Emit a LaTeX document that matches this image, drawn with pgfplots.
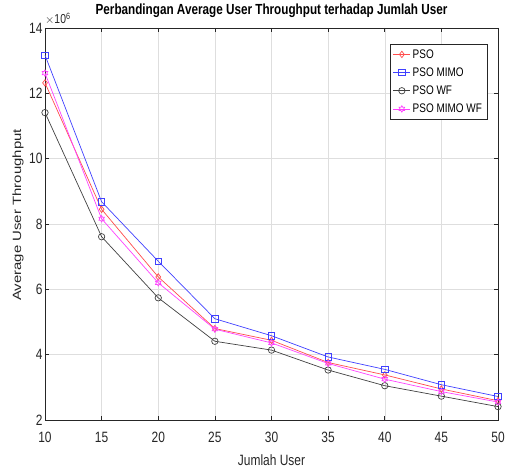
\documentclass[border=0pt]{standalone}
\usepackage{pgfplots}
\pgfplotsset{compat=1.18}
\usepackage{fontspec}
\setmainfont[FakeStretch=0.8]{Liberation Sans}
\newfontfamily\ylabfont{Liberation Sans}
\usetikzlibrary{plotmarks}

% MATLAB-style hexagram marker
\pgfdeclareplotmark{hexagram}{%
  \pgfpathmoveto{\pgfpointpolar{90}{\pgfplotmarksize}}%
  \pgfpathlineto{\pgfpointpolar{120}{0.577\pgfplotmarksize}}%
  \pgfpathlineto{\pgfpointpolar{150}{\pgfplotmarksize}}%
  \pgfpathlineto{\pgfpointpolar{180}{0.577\pgfplotmarksize}}%
  \pgfpathlineto{\pgfpointpolar{210}{\pgfplotmarksize}}%
  \pgfpathlineto{\pgfpointpolar{240}{0.577\pgfplotmarksize}}%
  \pgfpathlineto{\pgfpointpolar{270}{\pgfplotmarksize}}%
  \pgfpathlineto{\pgfpointpolar{300}{0.577\pgfplotmarksize}}%
  \pgfpathlineto{\pgfpointpolar{330}{\pgfplotmarksize}}%
  \pgfpathlineto{\pgfpointpolar{0}{0.577\pgfplotmarksize}}%
  \pgfpathlineto{\pgfpointpolar{30}{\pgfplotmarksize}}%
  \pgfpathlineto{\pgfpointpolar{60}{0.577\pgfplotmarksize}}%
  \pgfpathclose
  \pgfusepathqstroke}

\definecolor{axgray}{gray}{0.15}
\definecolor{gridgray}{gray}{0.87}
\definecolor{mred}{rgb}{1,0.3,0.3}
\definecolor{mblue}{rgb}{0.25,0.25,1}
\definecolor{mblack}{gray}{0.25}
\definecolor{mmag}{rgb}{1,0.25,1}

\begin{document}
\begin{tikzpicture}[x=1bp,y=1bp]
\begin{axis}[
    name=ax,
    scale only axis,
    width=453bp,
    height=392bp,
    xmin=10, xmax=50,
    ymin=2, ymax=14,
    xtick={10,15,...,50},
    ytick={2,4,...,14},
    grid=major,
    major grid style={gridgray, line width=0.5pt},
    axis line style={axgray, line width=0.6pt},
    tick style={axgray, line width=0.6pt},
    major tick length=4bp,
    tick align=inside,
    font=\fontsize{15}{17}\selectfont,
    ticklabel style={text=axgray, font=\fontsize{15}{17}\selectfont},
    xticklabel style={anchor=center, yshift=-17bp},
    yticklabel style={anchor=east, xshift=1bp},
    /pgf/number format/assume math mode=true,
    title={\textbf{Perbandingan Average User Throughput terhadap Jumlah User}},
    title style={font=\fontsize{14.7}{16}\selectfont, at={(axis description cs:0.5,1)}, anchor=center, yshift=11bp},
    xlabel={Jumlah User},
    ylabel={\ylabfont Average User Throughput},
    xlabel style={text=axgray, at={(axis description cs:0.5,-0.102)}, anchor=center},
    ylabel style={text=axgray, at={(axis description cs:-0.0596,0.523)}, anchor=center, yscale=0.8},
    legend style={
        at={(0.976,0.959)}, anchor=north east,
        draw=axgray, line width=0.5pt,
        font=\fontsize{12.5}{14}\selectfont,
        cells={anchor=west},
        row sep=4bp,
        inner sep=3bp,
    },
    legend cell align={left},
    every axis plot/.append style={line width=0.7pt, mark size=3.2bp, mark options={solid}},
]
\addplot[mred, mark=diamond] coordinates {
    (10,12.32) (15,8.45) (20,6.38) (25,4.80) (30,4.44)
    (35,3.76) (40,3.38) (45,2.95) (50,2.59)
};
\addlegendentry{PSO}
\addplot[mblue, mark=square] coordinates {
    (10,13.17) (15,8.68) (20,6.86) (25,5.10) (30,4.58)
    (35,3.93) (40,3.55) (45,3.08) (50,2.72)
};
\addlegendentry{PSO MIMO}
\addplot[mblack, mark=o] coordinates {
    (10,11.41) (15,7.61) (20,5.74) (25,4.41) (30,4.14)
    (35,3.53) (40,3.05) (45,2.73) (50,2.41)
};
\addlegendentry{PSO WF}
\addplot[mmag, mark=hexagram] coordinates {
    (10,12.62) (15,8.16) (20,6.20) (25,4.78) (30,4.36)
    (35,3.73) (40,3.25) (45,2.87) (50,2.55)
};
\addlegendentry{PSO MIMO WF}
\end{axis}
\node[anchor=base west, text=axgray, font=\fontsize{13}{15}\selectfont, inner sep=0pt]
    at ([yshift=4bp]ax.north west) {$\times$10\textsuperscript{6}};
\pgfresetboundingbox
\path ([xshift=-45bp,yshift=-48bp]ax.south west) rectangle ([xshift=7bp,yshift=28bp]ax.north east);
\end{tikzpicture}
\end{document}
